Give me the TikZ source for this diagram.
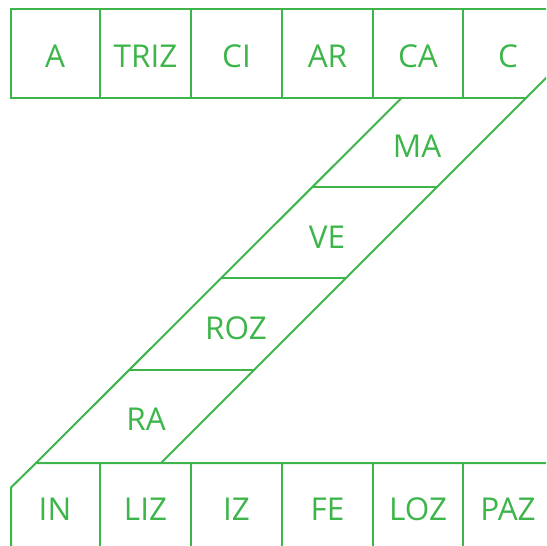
\documentclass[tikz,border=0pt]{standalone}
\usepackage{fontspec}
\setmainfont{Open Sans}
\definecolor{zgreen}{RGB}{61,181,74}
\tikzset{
  ln/.style={draw=zgreen, line width=2pt, line cap=butt, line join=miter},
  lbl/.style={text=zgreen, font=\fontsize{31.5}{36}\selectfont, inner sep=0pt, anchor=center}
}
\begin{document}
\begin{tikzpicture}[x=1pt,y=-1pt]
\useasboundingbox (0,0) rectangle (546,546);
\clip (0,0) rectangle (546,546);
% top row
\draw[ln] (560,9) -- (10.5,9) -- (10.5,97.5) -- (527,97.5);
\foreach \x in {100,191,282,373,463} \draw[ln] (\x,9) -- (\x,99);
% band
\draw[ln] (402,97.5) -- (36,463);
\draw[ln] (161,463) -- (570,54);
\draw[ln] (313,187) -- (438,187);
\draw[ln] (222,278) -- (347,278);
\draw[ln] (130,370) -- (255,370);
% bottom row
\draw[ln] (560,463) -- (36,463) -- (11,487.5) -- (11,560);
\foreach \x in {100,191,282,373,463} \draw[ln] (\x,463) -- (\x,560);
% labels
\node[lbl] (a) at (55,56) {A};
\node[lbl] (triz) at (145.5,56) {TRIZ};
\node[lbl] (ci) at (236.5,56) {CI};
\node[lbl] (ar) at (327.5,56) {AR};
\node[lbl] (ca) at (418,56) {CA};
\node[lbl] (c) at (508,56) {C};
\node[lbl] (ma) at (417,146) {MA};
\node[lbl] (ve) at (327,237) {VE};
\node[lbl] (roz) at (236,328) {ROZ};
\node[lbl] (ra) at (146,419) {RA};
\node[lbl] (in) at (55,509) {IN};
\node[lbl] (liz) at (145.5,509) {LIZ};
\node[lbl] (iz) at (236.5,509) {IZ};
\node[lbl] (fe) at (327.5,509) {FE};
\node[lbl] (loz) at (418,509) {LOZ};
\node[lbl] (paz) at (508,509) {PAZ};
\end{tikzpicture}
\end{document}
